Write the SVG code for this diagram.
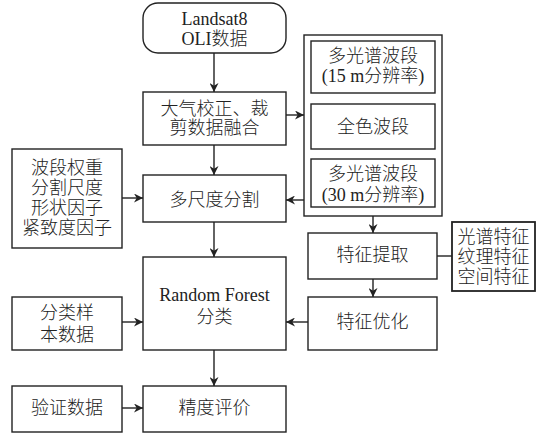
<svg xmlns="http://www.w3.org/2000/svg" width="543" height="441" viewBox="0 0 543 441">
<defs>
<marker id="ah" viewBox="0 0 10 10" refX="10" refY="5" markerWidth="9" markerHeight="9" markerUnits="userSpaceOnUse" orient="auto">
<path d="M0,0 L10,5 L0,10 L3,5 Z" fill="#222"/>
</marker>
<style>
rect{fill:#fff;stroke:#222;stroke-width:1.4}
text{font-family:"Liberation Serif","Noto Sans CJK SC",serif;font-size:18px;font-weight:300;fill:#222;text-anchor:middle;dominant-baseline:central}
.c line,.c path{stroke:#222;stroke-width:1.4;fill:none}
</style>
</defs>
<rect width="543" height="441" style="fill:#fff;stroke:none"/>
<g id="landsat"><rect x="143" y="3" width="143" height="50" rx="15"/><text x="214.5" y="19">Landsat8</text><text x="214.5" y="39">OLI数据</text></g>
<g id="preprocess"><rect x="143" y="92" width="143" height="53"/><text x="214.5" y="109">大气校正、裁</text><text x="214.5" y="128">剪数据融合</text></g>
<g id="bands"><rect x="304" y="35" width="138" height="181"/></g>
<g id="ms15"><rect x="311" y="41" width="124" height="52"/><text x="373" y="56">多光谱波段</text><text x="373" y="76">(15 m分辨率)</text></g>
<g id="pan"><rect x="311" y="104" width="124" height="45"/><text x="373" y="127">全色波段</text></g>
<g id="ms30"><rect x="311" y="159" width="124" height="48"/><text x="373" y="174">多光谱波段</text><text x="373" y="195">(30 m分辨率)</text></g>
<g id="params"><rect x="12" y="149" width="110" height="99"/><text x="67" y="168">波段权重</text><text x="67" y="188">分割尺度</text><text x="67" y="208">形状因子</text><text x="67" y="228">紧致度因子</text></g>
<g id="seg"><rect x="143" y="175" width="143" height="47"/><text x="214.5" y="200">多尺度分割</text></g>
<g id="rf"><rect x="143" y="257" width="143" height="93"/><text x="214.5" y="295">Random Forest</text><text x="214.5" y="317">分类</text></g>
<g id="samples"><rect x="12" y="297" width="110" height="53"/><text x="67" y="313">分类样</text><text x="67" y="335">本数据</text></g>
<g id="valid"><rect x="12" y="386" width="110" height="46"/><text x="67" y="408">验证数据</text></g>
<g id="acc"><rect x="143" y="386" width="143" height="46"/><text x="214.5" y="408">精度评价</text></g>
<g id="extract"><rect x="308" y="233" width="129" height="46"/><text x="372.5" y="255">特征提取</text></g>
<g id="optim"><rect x="308" y="297" width="129" height="53"/><text x="372.5" y="322">特征优化</text></g>
<g id="features"><rect x="452" y="222" width="83" height="69" style="stroke-width:1.8"/><text x="493.5" y="237">光谱特征</text><text x="493.5" y="257">纹理特征</text><text x="493.5" y="277">空间特征</text></g>
<g class="c" id="connectors">
<line x1="214" y1="53" x2="214" y2="92" marker-end="url(#ah)"/>
<line x1="286" y1="115" x2="304" y2="115" marker-end="url(#ah)"/>
<line x1="214" y1="145" x2="214" y2="175" marker-end="url(#ah)"/>
<line x1="304" y1="200" x2="286" y2="200" marker-end="url(#ah)"/>
<line x1="122" y1="198" x2="143" y2="198" marker-end="url(#ah)"/>
<line x1="214" y1="222" x2="214" y2="257" marker-end="url(#ah)"/>
<line x1="122" y1="322" x2="143" y2="322" marker-end="url(#ah)"/>
<line x1="214" y1="350" x2="214" y2="386" marker-end="url(#ah)"/>
<line x1="122" y1="408" x2="143" y2="408" marker-end="url(#ah)"/>
<line x1="373" y1="216" x2="373" y2="233" marker-end="url(#ah)"/>
<line x1="373" y1="279" x2="373" y2="297" marker-end="url(#ah)"/>
<line x1="308" y1="322" x2="286" y2="322" marker-end="url(#ah)"/>
<line x1="437" y1="256" x2="452" y2="256"/>
</g>
</svg>
